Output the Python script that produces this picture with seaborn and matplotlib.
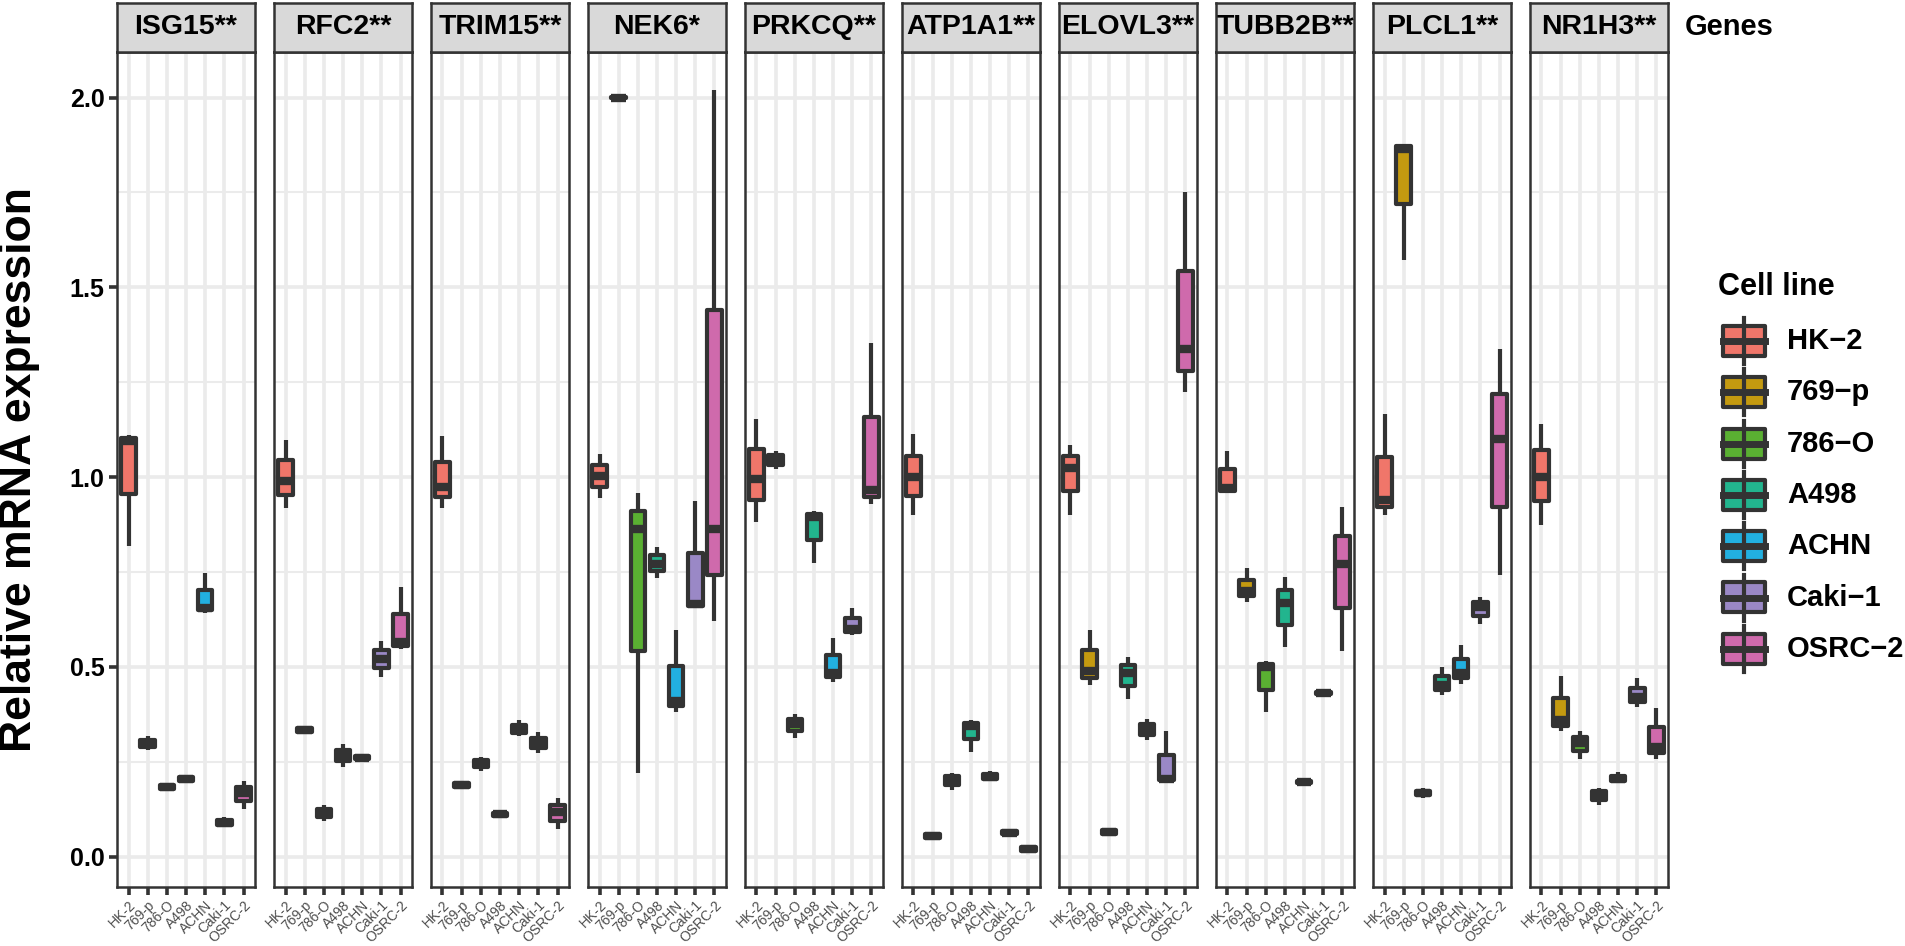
import numpy as np
import pandas as pd
import matplotlib
matplotlib.use("Agg")
import matplotlib.pyplot as plt
from matplotlib.patches import Rectangle
from matplotlib.lines import Line2D
from matplotlib.ticker import MultipleLocator
import seaborn as sns

# genes shown as facets (with significance stars) and cell lines on x
genes = ["ISG15", "RFC2", "TRIM15", "NEK6", "PRKCQ", "ATP1A1", "ELOVL3", "TUBB2B", "PLCL1", "NR1H3"]
stars = ["**", "**", "**", "*", "**", "**", "**", "**", "**", "**"]
cells = ["HK-2", "769-p", "786-O", "A498", "ACHN", "Caki-1", "OSRC-2"]
colors = ["#F0766A", "#C49A10", "#5AB032", "#22B58E", "#22B0E0", "#9A88C6", "#CF6AAC"]

# three replicates per cell line (order of `cells`)
isg15 = [(0.818, 1.095, 1.11), (0.28, 0.296, 0.318), (0.175, 0.183, 0.192), (0.196, 0.204, 0.214),
         (0.643, 0.655, 0.748), (0.08, 0.089, 0.104), (0.125, 0.167, 0.2)]
rfc2 = [(0.918, 0.99, 1.098), (0.322, 0.333, 0.345), (0.095, 0.115, 0.135), (0.237, 0.265, 0.296),
        (0.252, 0.261, 0.27), (0.472, 0.522, 0.568), (0.546, 0.565, 0.711)]
trim15 = [(0.918, 0.975, 1.107), (0.18, 0.189, 0.198), (0.225, 0.248, 0.262), (0.104, 0.112, 0.12),
          (0.318, 0.333, 0.36), (0.272, 0.298, 0.329), (0.072, 0.117, 0.155)]
nek6 = [(0.944, 1.004, 1.06), (1.995, 2.0, 2.005), (0.22, 0.863, 0.957), (0.735, 0.771, 0.816),
        (0.382, 0.41, 0.597), (0.655, 0.665, 0.937), (0.62, 0.863, 2.02)]
prkcq = [(0.882, 0.996, 1.153), (1.02, 1.045, 1.07), (0.312, 0.35, 0.375), (0.774, 0.895, 0.91),
         (0.46, 0.485, 0.575), (0.585, 0.6, 0.655), (0.93, 0.965, 1.352)]
atp1a1 = [(0.9, 1.0, 1.113), (0.043, 0.054, 0.066), (0.175, 0.203, 0.22), (0.276, 0.345, 0.36),
          (0.198, 0.21, 0.226), (0.055, 0.063, 0.072), (0.012, 0.02, 0.03)]
elovl3 = [(0.9, 1.025, 1.085), (0.452, 0.49, 0.598), (0.055, 0.065, 0.075), (0.416, 0.485, 0.526),
          (0.308, 0.335, 0.362), (0.197, 0.205, 0.332), (1.224, 1.337, 1.751)]
tubb2b = [(0.958, 0.97, 1.07), (0.672, 0.70, 0.76), (0.38, 0.5, 0.515), (0.552, 0.668, 0.737),
          (0.19, 0.196, 0.202), (0.425, 0.431, 0.438), (0.541, 0.771, 0.92)]
plcl1 = [(0.9, 0.94, 1.166), (1.572, 1.865, 1.878), (0.155, 0.168, 0.18), (0.425, 0.452, 0.5),
         (0.455, 0.485, 0.558), (0.612, 0.657, 0.685), (0.741, 1.1, 1.337)]
nr1h3 = [(0.873, 1.0, 1.141), (0.33, 0.36, 0.476), (0.258, 0.3, 0.332), (0.135, 0.163, 0.182),
         (0.195, 0.205, 0.222), (0.395, 0.42, 0.471), (0.258, 0.29, 0.392)]

values = [isg15, rfc2, trim15, nek6, prkcq, atp1a1, elovl3, tubb2b, plcl1, nr1h3]

rows = []
for g, reps in zip(genes, values):
    for c, trio in zip(cells, reps):
        for v in trio:
            rows.append((g, c, v))
df = pd.DataFrame(rows, columns=["gene", "cell", "value"])
pal = dict(zip(cells, colors))

plt.rcParams["font.family"] = ["Liberation Sans", "DejaVu Sans"]
DARK = "#333333"
GRID = "#EBEBEB"
W, H = 1906, 946


def px(x0, y0, w, h):
    return [x0 / W, 1 - (y0 + h) / H, w / W, h / H]


fig = plt.figure(figsize=(W / 100, H / 100), dpi=100)

for i, g in enumerate(genes):
    x0 = 117 + i * 157
    ax = fig.add_axes(px(x0, 52, 138, 835))
    sns.boxplot(data=df[df.gene == g], x="cell", y="value", hue="cell",
                order=cells, hue_order=cells, palette=pal, legend=False,
                saturation=1, width=0.75, linecolor=DARK, linewidth=3,
                showcaps=False, medianprops=dict(color=DARK, linewidth=6),
                boxprops=dict(joinstyle="round"), ax=ax)
    ax.set_xlim(-0.6, 6.6)
    ax.set_ylim(-0.08, 2.12)
    ax.set_axisbelow(True)
    ax.yaxis.set_minor_locator(MultipleLocator(0.25))
    ax.grid(which="major", color=GRID, linewidth=2.6)
    ax.grid(which="minor", axis="y", color=GRID, linewidth=1.5)
    ax.tick_params(which="minor", length=0)
    ax.set_xlabel("")
    ax.set_ylabel("")
    ax.set_xticks(range(len(cells)))
    ax.set_xticklabels(cells, rotation=45, ha="right", va="top",
                       rotation_mode="anchor", fontsize=10, color="#4D4D4D")
    ax.tick_params(axis="x", length=6, width=2.6, color=DARK, pad=2)
    ticks = [0.0, 0.5, 1.0, 1.5, 2.0]
    ax.set_yticks(ticks)
    if i == 0:
        ax.set_yticklabels([f"{t:.1f}" for t in ticks], fontsize=18,
                           fontweight="bold", color="black")
        ax.tick_params(axis="y", length=6, width=2.6, color=DARK, pad=3)
    else:
        ax.tick_params(axis="y", left=False, labelleft=False)
    for sp in ax.spines.values():
        sp.set_color(DARK)
        sp.set_linewidth(1.8)

    sax = fig.add_axes(px(x0, 3, 138, 49))
    sax.set_facecolor("#D9D9D9")
    sax.set_xticks([])
    sax.set_yticks([])
    for sp in sax.spines.values():
        sp.set_color(DARK)
        sp.set_linewidth(1.8)
    sax.text(0.5, 0.5, g + stars[i], transform=sax.transAxes, ha="center",
             va="center", fontsize=20.5, fontweight="bold")

fig.text(20 / W, 1 - 470 / H, "Relative mRNA expression", rotation=90,
         ha="center", va="center", fontsize=32, fontweight="bold")
fig.text(1685 / W, 1 - 27 / H, "Genes", ha="left", va="center",
         fontsize=21, fontweight="bold")

# legend drawn as small box glyphs
fig.text(1718 / W, 1 - 287 / H, "Cell line", ha="left", va="center",
         fontsize=22, fontweight="bold")
for k, (c, col) in enumerate(zip(cells, colors)):
    cx, cy = 1744, 341 + k * 51.3
    fig.add_artist(Line2D([cx / W, cx / W], [1 - (cy - 23) / H, 1 - (cy + 23) / H],
                          transform=fig.transFigure, color=DARK, lw=3))
    fig.add_artist(Rectangle(((cx - 21) / W, 1 - (cy + 15) / H), 42 / W, 30 / H,
                             transform=fig.transFigure, facecolor=col,
                             edgecolor=DARK, lw=3, joinstyle="round"))
    fig.add_artist(Line2D([(cx - 21) / W, (cx + 21) / W], [1 - cy / H, 1 - cy / H],
                          transform=fig.transFigure, color=DARK, lw=5))
    fig.text(1787 / W, 1 - cy / H, c.replace("-", "\u2212"), ha="left",
             va="center", fontsize=21, fontweight="bold")

fig.savefig("out.png", dpi=100, facecolor="white")
